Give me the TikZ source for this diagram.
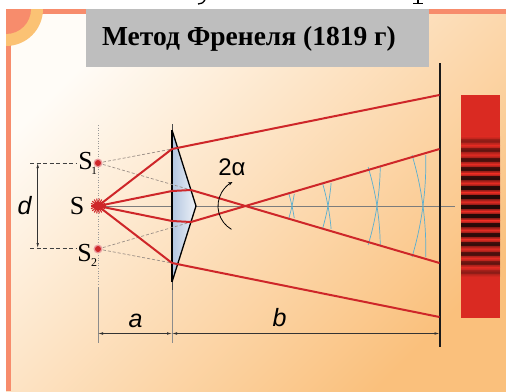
\documentclass[tikz,border=0pt]{standalone}
\usepackage{fontspec}
\setmainfont{Liberation Serif}
\newfontfamily\labelsans{Liberation Sans}
\usetikzlibrary{arrows.meta}

\definecolor{rayred}{HTML}{CE2629}
\definecolor{framecoral}{HTML}{F78C6C}
\definecolor{ringamber}{HTML}{FBC274}
\definecolor{titlegray}{HTML}{BEBEBE}
\definecolor{wavecyan}{HTML}{5AAFD0}
\definecolor{fringered}{HTML}{DA2A22}
\definecolor{fringedark}{HTML}{240A08}
\definecolor{virtgray}{HTML}{9A8E86}
\definecolor{axisgray}{HTML}{7C7C7C}
\definecolor{prismblue}{HTML}{B3C6E0}
\definecolor{prismpale}{HTML}{EEF2F8}
\definecolor{bgcream}{HTML}{FFFCF7}
\definecolor{bgmid}{HTML}{FEE8CF}
\definecolor{bgpeach}{HTML}{FAC07C}

\tikzset{
  ray/.style={rayred, line width=2pt, line join=round},
  virtual/.style={virtgray, line width=0.7pt, dash pattern=on 3pt off 2pt},
  wave/.style={wavecyan, line width=0.7pt},
  dimline/.style={black!80, line width=0.7pt, {Latex[length=5pt,width=2.6pt]}-{Latex[length=5pt,width=2.6pt]}},
  extline/.style={black!45, line width=0.7pt},
  serifsym/.style={font=\fontsize{26}{26}\selectfont, inner sep=0pt},
  sanssym/.style={font=\labelsans\fontsize{25}{25}\selectfont\itshape, inner sep=0pt},
}

\begin{document}
\begin{tikzpicture}[x=1pt,y=-1pt]
\useasboundingbox (0,0) rectangle (506,391);
\fill[white] (0,0) rectangle (506,391);

% slide background and its coral frame
\shade[top color=bgcream, middle color=bgmid, bottom color=bgpeach, shading angle=45]
  (6,9) rectangle (506,391);
\fill[framecoral] (6,9) rectangle (506,14);
\fill[framecoral] (6,9) rectangle (11,391);
\begin{scope}
  \clip (6,9) rectangle (506,391);
  \fill[ringamber] (6,9) circle[radius=37];
  \fill[framecoral] (6,9) circle[radius=25];
\end{scope}

% descenders of the line above the slide
\draw[black, line width=1.3pt] (205,0) .. controls (203,3) .. (198,4);
\draw[black, line width=1.3pt] (418,0) -- (418,3);
\draw[black, line width=1pt] (413,3) -- (423,3);

% title
\fill[titlegray] (86,9) rectangle (429,67);
\node[anchor=base, inner sep=0pt, font=\bfseries\fontsize{27.5}{27.5}\selectfont]
  (title) at (249,45) {Метод Френеля (1819 г)};

% interference pattern on the screen
\fill[fringered] (461,95) rectangle (500,318);
\foreach \k in {-7,...,7}{
  \pgfmathsetmacro\yk{206.5+9.4*\k}
  \pgfmathsetmacro\op{max(0.12,1-(\k/7.6)^2)}
  \pgfmathsetmacro\halo{0.55*\op+0.25}
  \shade[top color=fringered, bottom color=fringered, middle color=fringedark, opacity=\halo]
    (461,\yk-4.4) rectangle (500,\yk+4.4);
  \fill[fringedark, opacity=\op] (461,\yk-2) rectangle (500,\yk+2);
}

% key points
\coordinate (S)  at (98,206);
\coordinate (S1) at (98,163);
\coordinate (S2) at (98,249);
\coordinate (Ptop) at (172,130);
\coordinate (Pbot) at (172,282);
\coordinate (Papex) at (196,206);
\coordinate (A1) at (172,149);
\coordinate (A2) at (172,191);
\coordinate (A3) at (172,221);
\coordinate (A4) at (172,263);
\coordinate (B2) at (191,190);
\coordinate (B3) at (191,222);
\coordinate (C1) at (439.5,95);
\coordinate (C2) at (439.5,263);
\coordinate (C3) at (439.5,149);
\coordinate (C4) at (439.5,317);
\coordinate (X)  at (245,206);
\coordinate (Axend) at (455,206);
\coordinate (Scrtop) at (439.5,63);
\coordinate (Scrbot) at (439.5,347);

% source plane and extension lines
\draw[black!40, line width=0.6pt, dotted] (98,125) -- (98,284);
\draw[extline] (98,287) -- (98,343);
\draw[black!70, line width=0.5pt] (172,124) -- (Ptop);
\draw[black!70, line width=0.5pt] (Pbot) -- (172,290);
\draw[extline] (172,290) -- (172,343);

% optical axis
\draw[axisgray, line width=0.6pt] (S) -- (Axend);

% biprism
\shade[left color=prismblue, right color=prismpale] (Ptop) -- (Papex) -- (Pbot) -- cycle;
\draw[black, line width=1.3pt, line join=miter] (Ptop) -- (Papex) -- (Pbot);
\draw[black, line width=1.8pt] (Ptop) -- (Pbot);

% screen
\draw[black!90, line width=2pt] (Scrtop) -- (Scrbot);

% wavefronts: circles about S1 and S2 crossing on the axis
\foreach \xk/\h in {292/12, 328/23, 377/39, 423/51}{
  \pgfmathsetmacro\r{veclen(\xk-98,43)}
  \pgfmathsetmacro\ta{asin((43-\h)/\r)}
  \pgfmathsetmacro\tb{asin((43+\h)/\r)}
  \draw[wave] plot[domain=\ta:\tb, samples=24, variable=\t]
    ({98+\r*cos(\t)}, {163+\r*sin(\t)});
  \draw[wave] plot[domain=\ta:\tb, samples=24, variable=\t]
    ({98+\r*cos(\t)}, {249-\r*sin(\t)});
}

% virtual rays
\draw[virtual] (S1) -- (A1);
\draw[virtual] (S1) -- (B2);
\draw[virtual] (S2) -- (B3);
\draw[virtual] (S2) -- (A4);

% real rays
\draw[ray] (S) -- (A1) -- (C1);
\draw[ray] (S) -- (A2) -- (B2) -- (C2);
\draw[ray] (S) -- (A3) -- (B3) -- (C3);
\draw[ray] (S) -- (A4) -- (C4);

% sources
\foreach \ang in {0,20,...,340}
  \draw[rayred, line width=1.1pt] (S) -- ++(\ang:7.5);
\fill[rayred] (S) circle[radius=4.5];
\foreach \p in {S1,S2}{
  \fill[rayred!45] (\p) circle[radius=4.5];
  \fill[rayred] (\p) circle[radius=3];
}

% angle 2alpha
\draw[black, line width=0.8pt, -{Stealth[length=4pt,width=3.5pt]}]
  ([shift={(120:27)}]X) arc[start angle=120, end angle=242, radius=27];
\node[font=\labelsans\fontsize{24}{24}\selectfont, inner sep=0pt] (alpha) at (232,167) {2α};

% labels of the sources
\node[serifsym] (labS) at (77,206) {S};
\node[serifsym] (labS1) at (85.5,161.5) {S};
\node[inner sep=0pt, font=\fontsize{11}{11}\selectfont] (sub1) at (94,170.5) {1};
\node[serifsym] (labS2) at (84.5,253.5) {S};
\node[inner sep=0pt, font=\fontsize{12}{12}\selectfont] (sub2) at (94,263) {2};

% separation d
\coordinate (D1) at (30,163);
\coordinate (D2) at (30,248);
\coordinate (D1e) at (77,163);
\coordinate (D2e) at (77,248);
\draw[black!75, line width=0.6pt, dash pattern=on 4pt off 2.5pt] (D1) -- (D1e);
\draw[black!75, line width=0.6pt, dash pattern=on 4pt off 2.5pt] (D2) -- (D2e);
\draw[dimline] (37.7,163) -- (37.7,248);
\node[sanssym] (labd) at (24.5,206) {d};

% distances a and b
\coordinate (Da0) at (98,333.5);
\coordinate (Da1) at (172,333.5);
\coordinate (Db1) at (439.5,333.5);
\draw[dimline] (Da0) -- (Da1);
\draw[dimline] (Da1) -- (Db1);
\node[sanssym] (laba) at (135.5,320.5) {a};
\node[sanssym] (labb) at (279.5,318) {b};
\end{tikzpicture}
\end{document}
